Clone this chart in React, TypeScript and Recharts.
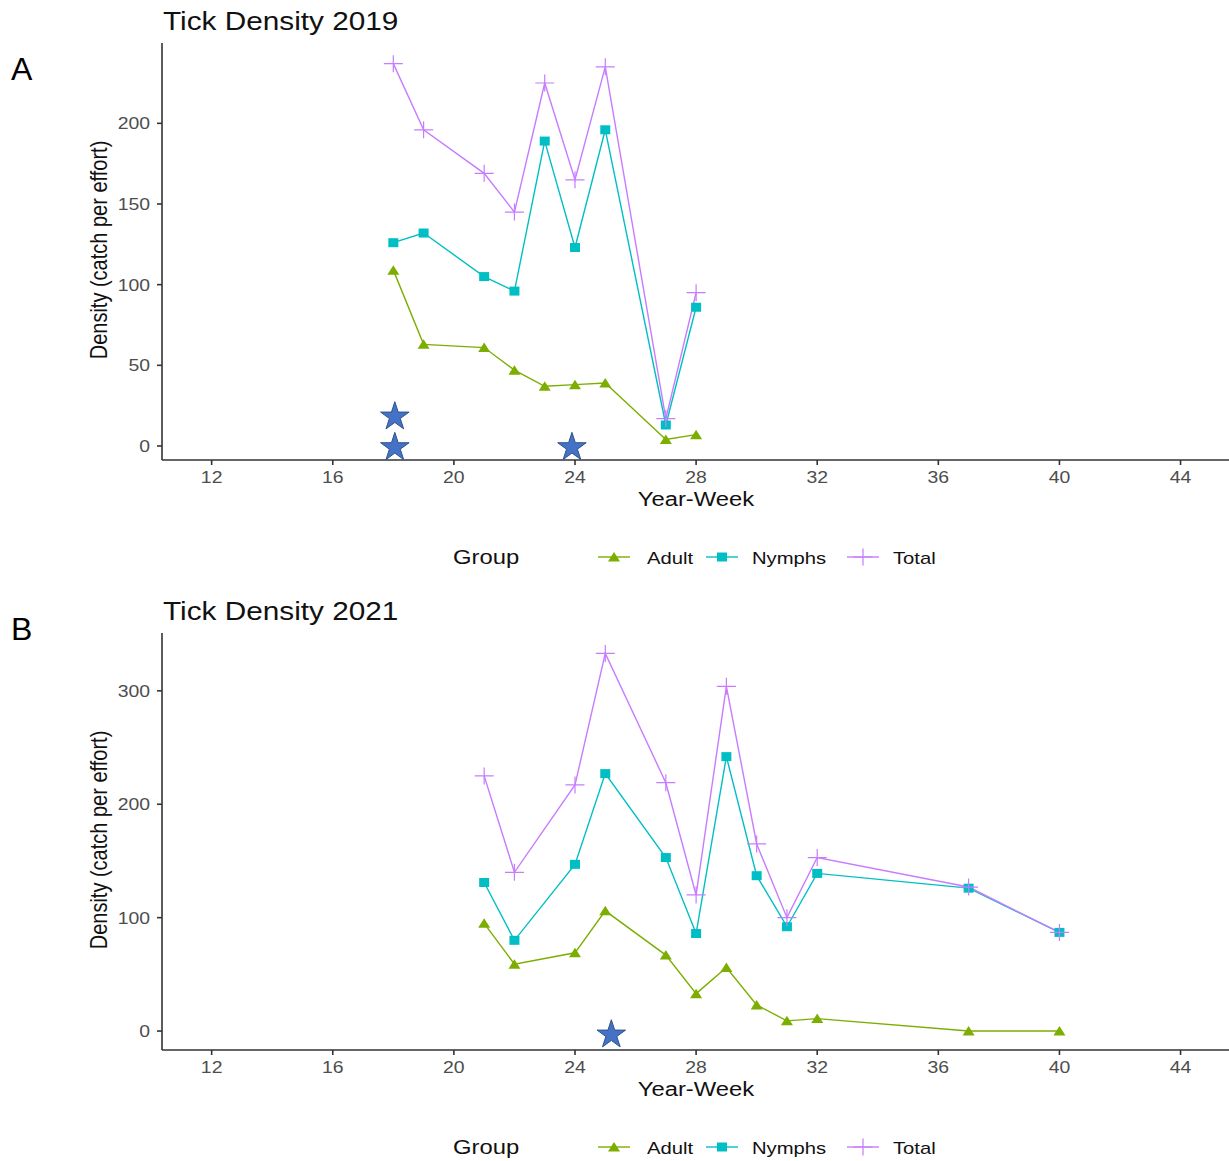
import React from "react";
import { ComposedChart, Line, Scatter, XAxis, YAxis } from "recharts";

// 2019 survey
const weeks2019 = [18, 19, 21, 22, 23, 24, 25, 27, 28];
const adult2019 = [109, 63, 61, 47, 37, 38, 39, 4, 7];
const nymphs2019 = [126, 132, 105, 96, 189, 123, 196, 13, 86];
const total2019 = [237, 196, 169, 145, 225, 165, 235, 17, 95];
const starWeeks2019 = [18.05, 18.05, 23.9];
const starValues2019 = [19, 0, 0];

// 2021 survey
const weeks2021 = [21, 22, 24, 25, 27, 28, 29, 30, 31, 32, 37, 40];
const adult2021 = [95, 59, 69, 106, 67, 33, 56, 23, 9, 11, 0, 0];
const nymphs2021 = [131, 80, 147, 227, 153, 86, 242, 137, 92, 139, 126, 87];
const total2021 = [225, 140, 217, 333, 219, 120, 304, 165, 100, 153, 127, 87];
const starWeeks2021 = [25.2];
const starValues2021 = [-2];

const xTicks = [12, 16, 20, 24, 28, 32, 36, 40, 44];
const yTicks2019 = [0, 50, 100, 150, 200];
const yTicks2021 = [0, 100, 200, 300];
const legendLabels = ["Adult", "Nymphs", "Total"];

const COLORS = { adult: "#7CAE00", nymphs: "#00BFC4", total: "#C77CFF" };
const STRETCH = 1.19;
const FONT = '"Liberation Sans", Arial, Helvetica, sans-serif';
const AXIS = "#333333";

const toRows = (weeks: number[], adult: number[], nymphs: number[], total: number[]) =>
  weeks.map((w, i) => ({ week: w, adult: adult[i], nymphs: nymphs[i], total: total[i] }));
const toStars = (weeks: number[], values: number[]) =>
  weeks.map((w, i) => ({ week: w, star: values[i] }));

const triPath = (cx: number, cy: number) =>
  `M${cx - 6},${cy + 4.5} L${cx + 6},${cy + 4.5} L${cx},${cy - 5} Z`;
const plusPath = (cx: number, cy: number) =>
  `M${cx - 9.5},${cy} L${cx + 9.5},${cy} M${cx},${cy - 8.5} L${cx},${cy + 8.5}`;
const starPath = (cx: number, cy: number, r: number) => {
  const pts: string[] = [];
  for (let k = 0; k < 10; k++) {
    const rad = k % 2 === 0 ? r : r * 0.382;
    const a = (-90 + k * 36) * (Math.PI / 180);
    pts.push(`${cx + rad * Math.cos(a)},${cy + rad * Math.sin(a)}`);
  }
  return `M${pts.join(" L")} Z`;
};

const Marker = ({ kind, cx, cy }: { kind: string; cx: number; cy: number }) => {
  if (kind === "adult") return <path d={triPath(cx, cy)} fill={COLORS.adult} />;
  if (kind === "nymphs")
    return <rect x={cx - 5} y={cy - 4.5} width={10} height={9} fill={COLORS.nymphs} />;
  return <path d={plusPath(cx, cy)} stroke={COLORS.total} strokeWidth={1.2} fill="none" />;
};

const dotFor = (kind: string) => (p: any) => (
  <g key={`${kind}-${p.index}`}>
    <Marker kind={kind} cx={p.cx} cy={p.cy} />
  </g>
);

const StarShape = (p: any) => (
  <path
    d={starPath(p.cx, p.cy + 1.4, 15)}
    fill="#4472C4"
    stroke="#2F528F"
    strokeWidth={1}
  />
);

const XTick = (p: any) => (
  <text
    x={p.x}
    y={p.y}
    dy={16.3}
    textAnchor="middle"
    transform={`translate(${p.x} 0) scale(${STRETCH} 1) translate(${-p.x} 0)`}
    fill="#4d4d4d"
    fontSize={16.3}
    fontFamily={FONT}
  >
    {p.payload.value}
  </text>
);

const YTick = (p: any) => (
  <text
    x={p.x - 5}
    y={p.y}
    dy={5.9}
    textAnchor="end"
    transform={`translate(${p.x - 5} 0) scale(${STRETCH} 1) translate(${-(p.x - 5)} 0)`}
    fill="#4d4d4d"
    fontSize={16.3}
    fontFamily={FONT}
  >
    {p.payload.value}
  </text>
);

const Txt = ({ left, top, size, center, children }: any) => (
  <div
    style={{
      position: "absolute",
      left,
      top,
      fontSize: size,
      lineHeight: 1,
      fontFamily: FONT,
      whiteSpace: "nowrap",
      color: "#111",
      transform: center ? `translateX(-50%) scaleX(${STRETCH})` : `scaleX(${STRETCH})`,
      transformOrigin: center ? "center" : "left",
    }}
  >
    {children}
  </div>
);

const legendMarkers = [
  { kind: "adult", lineX: 598, textX: 647 },
  { kind: "nymphs", lineX: 706, textX: 752 },
  { kind: "total", lineX: 847, textX: 893 },
];

interface PanelProps {
  top: number;
  height: number;
  title: string;
  letter: string;
  letterTop: number;
  rows: any[];
  stars: any[];
  yDomain: [number, number];
  yTicks: number[];
}

const Panel = ({ top, height, title, letter, letterTop, rows, stars, yDomain, yTicks }: PanelProps) => (
  <div style={{ position: "absolute", left: 0, top, width: 1229, height }}>
    <ComposedChart
      width={1229}
      height={height}
      data={rows}
      margin={{ top: 43, right: 0, bottom: height - 490, left: 0 }}
    >
      <XAxis
        type="number"
        dataKey="week"
        domain={[10.36, 45.6]}
        ticks={xTicks}
        allowDataOverflow
        height={30}
        tickSize={5}
        tickMargin={2}
        axisLine={{ stroke: AXIS, strokeWidth: 1.6 }}
        tickLine={{ stroke: AXIS, strokeWidth: 1.6 }}
        tick={<XTick />}
      />
      <YAxis
        type="number"
        domain={yDomain}
        ticks={yTicks}
        allowDataOverflow
        width={162}
        tickSize={5}
        tickMargin={2}
        axisLine={{ stroke: AXIS, strokeWidth: 1.6 }}
        tickLine={{ stroke: AXIS, strokeWidth: 1.6 }}
        tick={<YTick />}
      />
      <Line
        dataKey="adult"
        stroke={COLORS.adult}
        strokeWidth={1.4}
        dot={dotFor("adult")}
        activeDot={false}
        isAnimationActive={false}
      />
      <Line
        dataKey="nymphs"
        stroke={COLORS.nymphs}
        strokeWidth={1.4}
        dot={dotFor("nymphs")}
        activeDot={false}
        isAnimationActive={false}
      />
      <Line
        dataKey="total"
        stroke={COLORS.total}
        strokeWidth={1.4}
        dot={dotFor("total")}
        activeDot={false}
        isAnimationActive={false}
      />
      <Scatter data={stars} dataKey="star" shape={StarShape} isAnimationActive={false} />
    </ComposedChart>

    <div
      style={{
        position: "absolute",
        left: 11,
        top: letterTop,
        fontSize: 32,
        lineHeight: 1,
        fontFamily: FONT,
        color: "#000",
      }}
    >
      {letter}
    </div>
    <Txt left={163} top={8.8} size={25}>
      {title}
    </Txt>
    <Txt left={696} top={489} size={20} center>
      Year-Week
    </Txt>
    <div
      style={{
        position: "absolute",
        left: 98.5,
        top: 250,
        fontSize: 20,
        lineHeight: 1,
        fontFamily: FONT,
        whiteSpace: "nowrap",
        color: "#111",
        transform: `translate(-50%, -50%) scaleX(${STRETCH}) rotate(-90deg)`,
        transformOrigin: "center",
      }}
    >
      Density (catch per effort)
    </div>

    {/* legend */}
    <Txt left={453} top={547} size={20}>
      Group
    </Txt>
    {legendMarkers.map((m, i) => (
      <React.Fragment key={m.kind}>
        <svg
          width={32}
          height={20}
          style={{ position: "absolute", left: m.lineX, top: 547 }}
        >
          <line x1={0} y1={10} x2={32} y2={10} stroke={COLORS[m.kind as keyof typeof COLORS]} strokeWidth={1.4} />
          <Marker kind={m.kind} cx={16} cy={10} />
        </svg>
        <Txt left={m.textX} top={549.5} size={17}>
          {legendLabels[i]}
        </Txt>
      </React.Fragment>
    ))}
  </div>
);

export default function App() {
  return (
    <div
      style={{
        position: "absolute",
        left: 0,
        top: 0,
        width: 1229,
        height: 1161,
        background: "#fff",
        overflow: "hidden",
      }}
    >
      <Panel
        top={0}
        height={590}
        title="Tick Density 2019"
        letter="A"
        letterTop={53}
        rows={toRows(weeks2019, adult2019, nymphs2019, total2019)}
        stars={toStars(starWeeks2019, starValues2019)}
        yDomain={[-8.7, 249.8]}
        yTicks={yTicks2019}
      />
      <Panel
        top={590}
        height={571}
        title="Tick Density 2021"
        letter="B"
        letterTop={23}
        rows={toRows(weeks2021, adult2021, nymphs2021, total2021)}
        stars={toStars(starWeeks2021, starValues2021)}
        yDomain={[-16.7, 351]}
        yTicks={yTicks2021}
      />
    </div>
  );
}
